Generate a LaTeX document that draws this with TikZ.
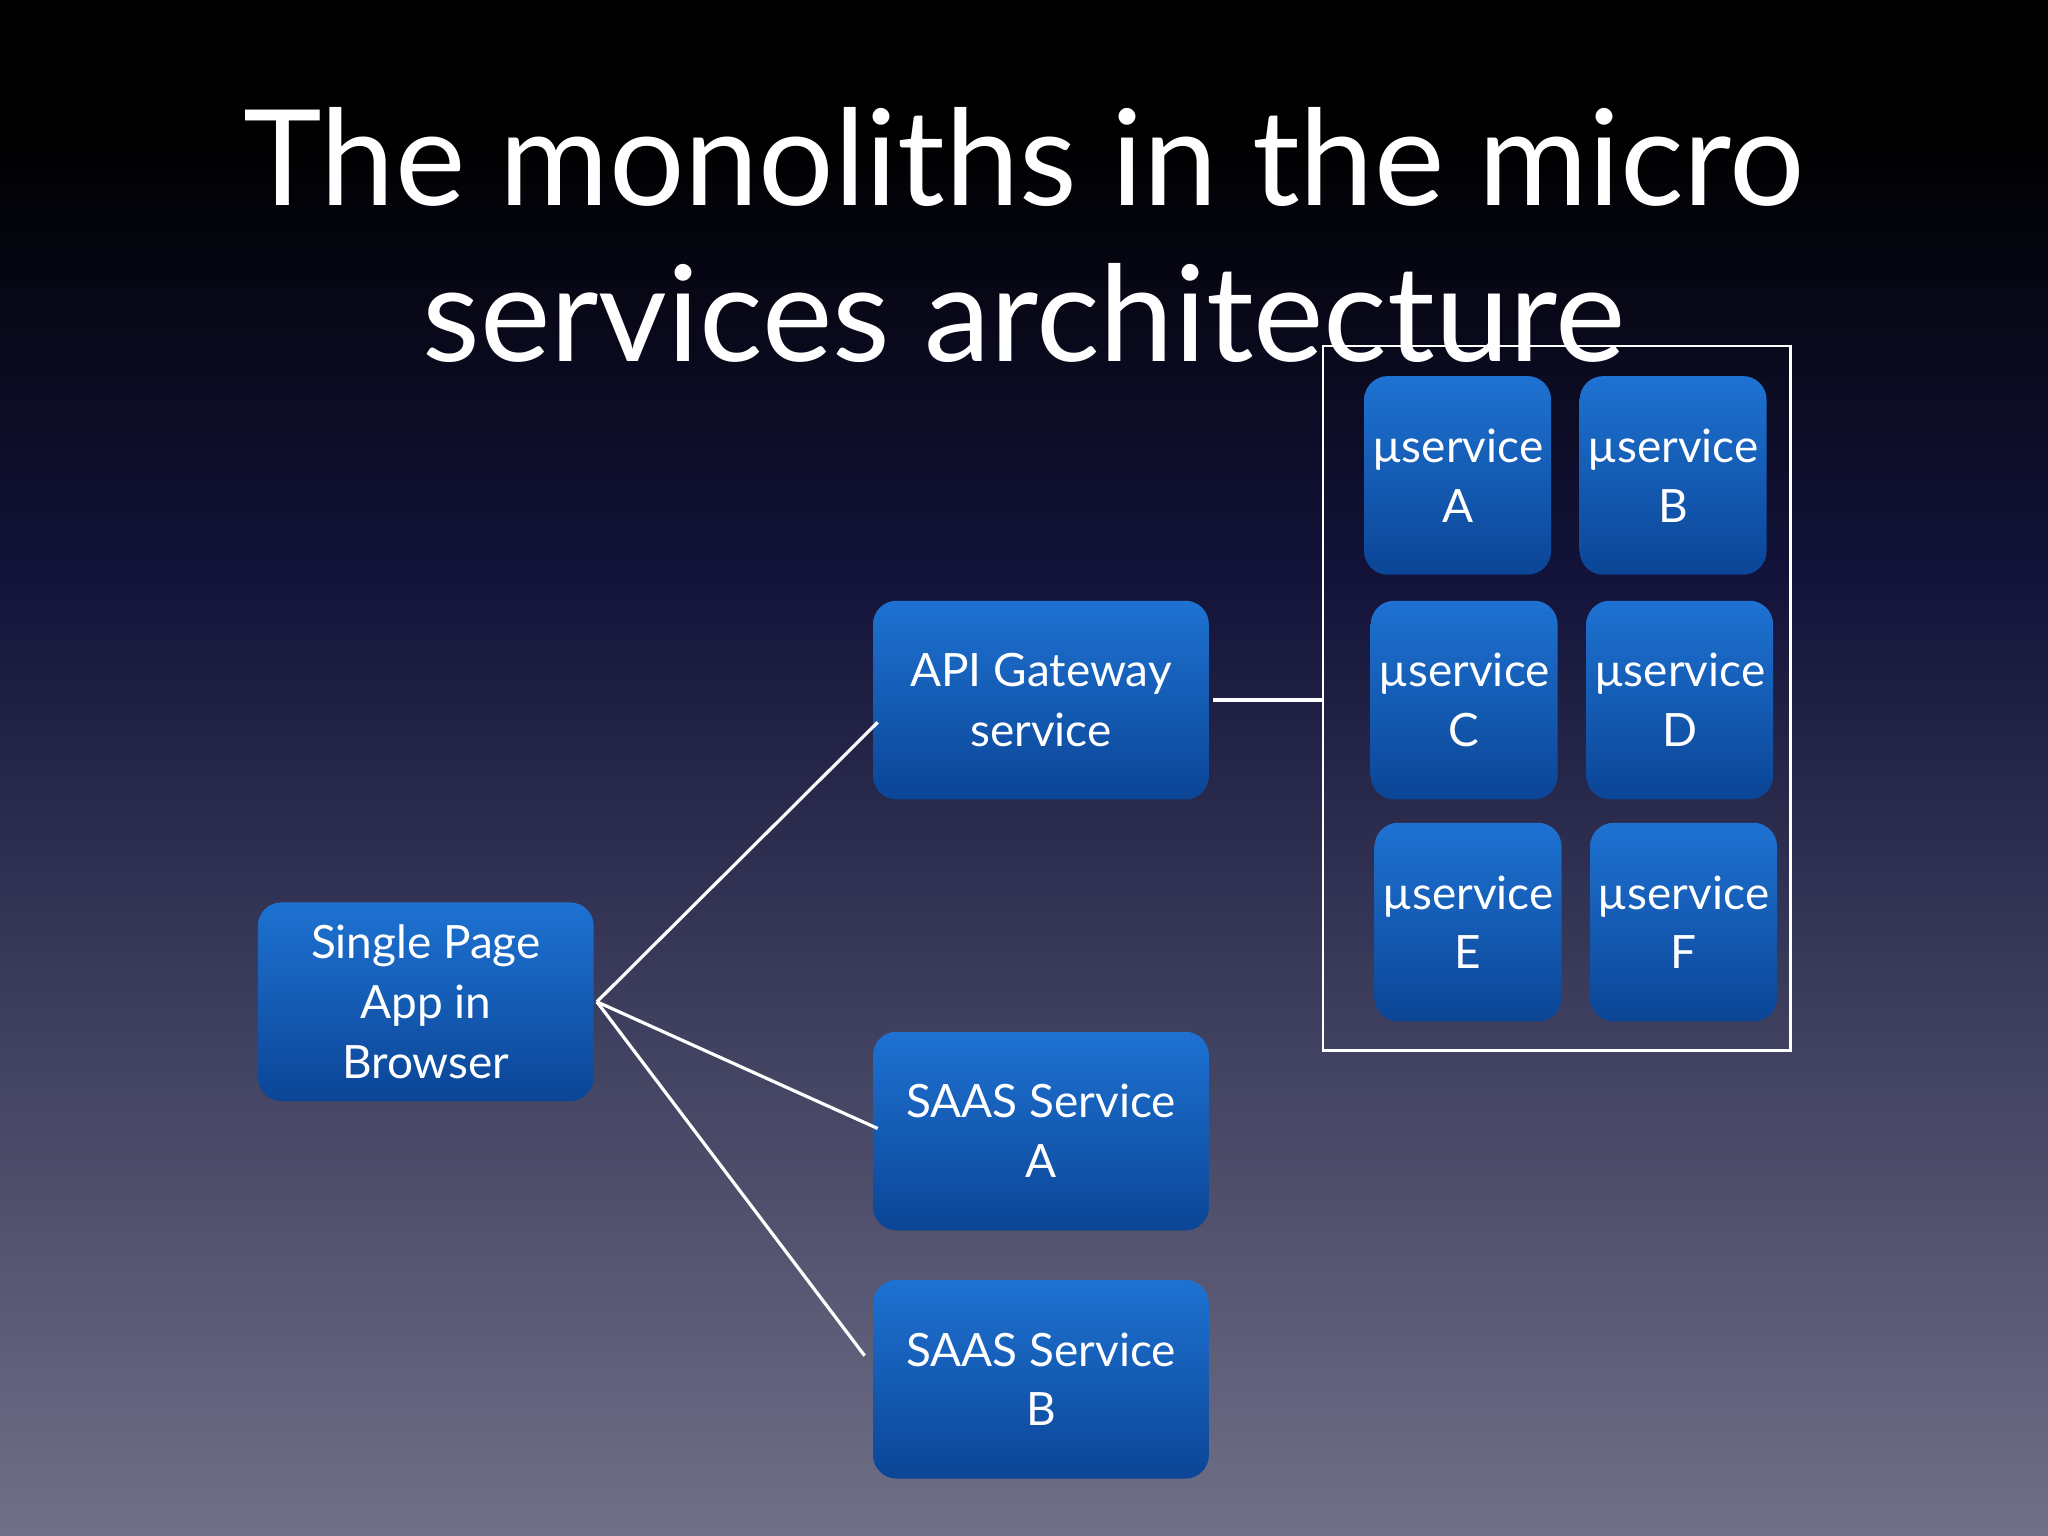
\documentclass[tikz,border=0pt]{standalone}
\usepackage{fontspec}
\setmainfont{Lato}
\begin{document}
\begin{tikzpicture}[x=0.01cm,y=-0.01cm,
  box/.style={rounded corners=0.18cm, top color=blue1, bottom color=blue2, draw=none,
    text=white, align=center, font=\fontsize{10}{13}\selectfont, inner sep=0pt, anchor=center},
  big/.style={box, minimum width=2.57cm, minimum height=1.52cm},
  small/.style={box, minimum width=1.43cm, minimum height=1.52cm},
  con/.style={draw=white, line width=0.7pt}]
\definecolor{blue1}{HTML}{1E72D2}
\definecolor{blue2}{HTML}{0B4596}
\definecolor{bgtop}{HTML}{000000}
\definecolor{bgmid}{HTML}{13133A}
\definecolor{bgbot}{HTML}{707088}
\useasboundingbox (0,0) rectangle (1568,1176);
\fill[bgtop] (0,0) rectangle (1568,100);
\fill[top color=bgtop, bottom color=bgmid] (0,99) rectangle (1568,440);
\fill[top color=bgmid, bottom color=bgbot] (0,439) rectangle (1568,1176);
\node[text=white, align=center, font=\fontsize{29}{34}\selectfont] (title) at (784,180)
  {The monoliths in the micro\\services architecture};
\node[big] (spa) at (326,767) {Single Page\\App in\\Browser};
\node[big] (api) at (797,536) {API Gateway\\service};
\node[big] (sa) at (797,866) {SAAS Service\\A};
\node[big] (sb) at (797,1056) {SAAS Service\\B};
\node[draw=white, line width=0.6pt, minimum width=3.58cm, minimum height=5.39cm, inner sep=0pt] (grp) at (1192,534.5) {};
\node[small] (ua) at (1116,364) {µservice\\A};
\node[small] (ub) at (1281,364) {µservice\\B};
\node[small] (uc) at (1121,536) {µservice\\C};
\node[small] (ud) at (1286,536) {µservice\\D};
\node[small] (ue) at (1124,706) {µservice\\E};
\node[small] (uf) at (1289,706) {µservice\\F};
\coordinate (s) at (457,767);
\coordinate (ea) at (672,553);
\coordinate (es) at (672,864);
\coordinate (eb) at (662,1038);
\coordinate (eg1) at (929,536);
\draw[con] (s) -- (ea);
\draw[con] (s) -- (es);
\draw[con] (s) -- (eb);
\draw[con] (eg1) -- (grp.west |- eg1);
\end{tikzpicture}
\end{document}
